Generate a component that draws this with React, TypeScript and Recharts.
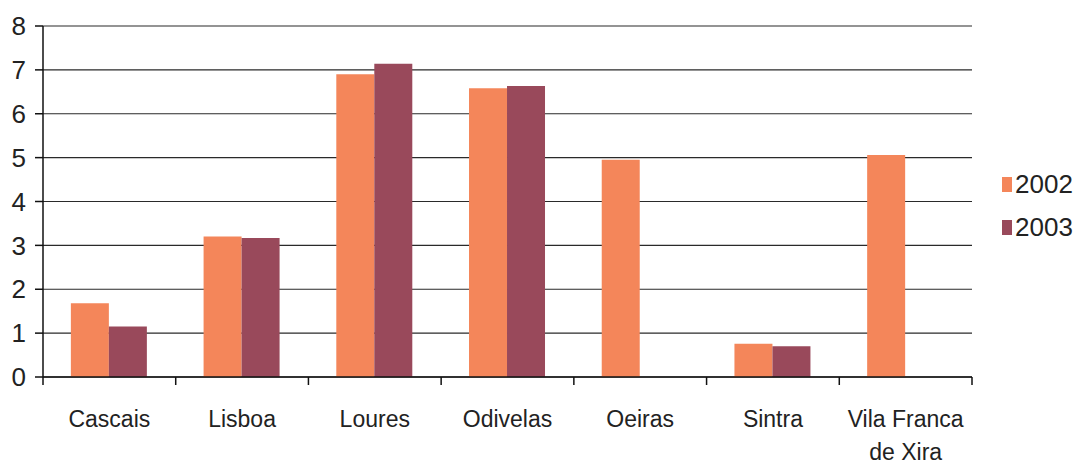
import {
  BarChart,
  Bar,
  XAxis,
  YAxis,
  CartesianGrid,
  Legend,
} from "recharts";

const categories = [
  "Cascais",
  "Lisboa",
  "Loures",
  "Odivelas",
  "Oeiras",
  "Sintra",
  "Vila Franca de Xira",
];
const values2002 = [1.68, 3.2, 6.9, 6.58, 4.95, 0.76, 5.06];
const values2003 = [1.15, 3.17, 7.14, 6.63, null, 0.7, null];
const yTicks = [0, 1, 2, 3, 4, 5, 6, 7, 8];
const seriesNames = ["2002", "2003"];

const tickLines: Record<string, string[]> = {
  "Vila Franca de Xira": ["Vila Franca", "de Xira"],
};

const W = 1080;
const H = 464;
const M = { top: 26, right: 108, bottom: 27, left: 0 };
const Y_AXIS_W = 43;
const BAND = (W - M.left - M.right - Y_AXIS_W) / categories.length;

const colors = ["#F4865A", "#99495B"];
const font = "'Liberation Sans', Arial, sans-serif";

const data = categories.map((name, i) => ({
  name,
  v2002: values2002[i],
  v2003: values2003[i],
}));

function CategoryTick(props: any) {
  const { x, y, payload, index } = props;
  const lines = tickLines[payload.value] ?? [payload.value];
  const left = x - BAND / 2;
  return (
    <g>
      <line x1={left} y1={y - 8} x2={left} y2={y} stroke="#111" strokeWidth={1.5} />
      {index === categories.length - 1 && (
        <line x1={x + BAND / 2} y1={y - 8} x2={x + BAND / 2} y2={y} stroke="#111" strokeWidth={1.5} />
      )}
      <text x={x} y={y + 42} textAnchor="middle" fontSize={23} fill="#222" fontFamily={font}>
        {lines.map((l: string, i: number) => (
          <tspan key={i} x={x} dy={i === 0 ? 0 : 33}>
            {l}
          </tspan>
        ))}
      </text>
    </g>
  );
}

function LegendBox() {
  return (
    <div style={{ fontFamily: font, fontSize: 26, color: "#222" }}>
      {seriesNames.map((s, i) => (
        <div key={s} style={{ display: "flex", alignItems: "center", height: 43 }}>
          <span
            style={{
              display: "inline-block",
              width: 10,
              height: 15,
              background: colors[i],
              marginRight: 3,
            }}
          />
          {s}
        </div>
      ))}
    </div>
  );
}

export default function App() {
  return (
    <div style={{ position: "absolute", left: 0, top: 0, width: W, height: H, background: "#fff" }}>
      <BarChart
        width={W}
        height={H}
        data={data}
        margin={M}
        barCategoryGap="21%"
        barGap={0}
        style={{ fontFamily: font }}
      >
        <CartesianGrid horizontal vertical={false} stroke="#2a2a2a" strokeWidth={1.2} />
        <XAxis
          dataKey="name"
          height={60}
          interval={0}
          tickLine={false}
          axisLine={{ stroke: "#111", strokeWidth: 1.5 }}
          tick={<CategoryTick />}
        />
        <YAxis
          width={Y_AXIS_W}
          domain={[0, 8]}
          ticks={yTicks}
          interval={0}
          tickSize={8}
          tickMargin={9}
          axisLine={{ stroke: "#111", strokeWidth: 1.5 }}
          tickLine={{ stroke: "#111", strokeWidth: 1.5 }}
          tick={{ fontSize: 26, fill: "#222", fontFamily: font }}
        />
        <YAxis
          yAxisId="right"
          orientation="right"
          width={0}
          domain={[0, 8]}
          tick={false}
          tickLine={false}
          axisLine={{ stroke: "#111", strokeWidth: 1.5 }}
        />
        <Legend
          layout="horizontal"
          align="center"
          verticalAlign="middle"
          wrapperStyle={{ left: 1002, top: 163, width: 78 }}
          content={<LegendBox />}
        />
        <Bar dataKey="v2002" name={seriesNames[0]} fill={colors[0]} isAnimationActive={false} />
        <Bar dataKey="v2003" name={seriesNames[1]} fill={colors[1]} isAnimationActive={false} />
      </BarChart>
    </div>
  );
}
